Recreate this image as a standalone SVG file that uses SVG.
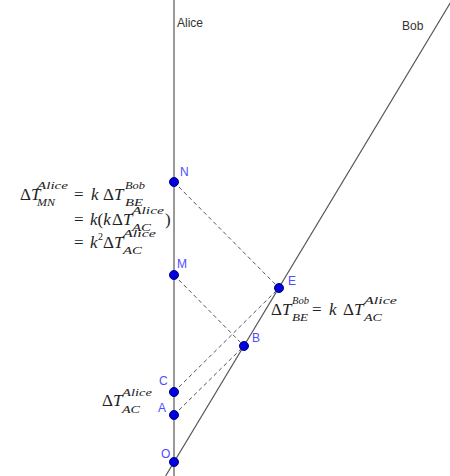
<svg xmlns="http://www.w3.org/2000/svg" width="450" height="476" viewBox="0 0 450 476">
<style>
.world{stroke:#9a9a9a;stroke-width:2;fill:none}
.bob{stroke:#555;stroke-width:1.2;fill:none}
.dash{stroke:#555;stroke-width:1;stroke-dasharray:4,3;fill:none}
.pt{fill:#0000e0;stroke:#00007a;stroke-width:1}
.lbl{font-family:"Liberation Sans",Arial,sans-serif;font-size:12px;fill:#4d4dff}
.name{font-family:"Liberation Sans",Arial,sans-serif;font-size:12px;fill:#333}
.m{font-family:"Liberation Serif","Times New Roman",serif;font-size:17px;fill:#222}
.i{font-style:italic}
.s{font-family:"Liberation Serif","Times New Roman",serif;font-size:10px;font-style:italic;fill:#222}
</style>
<rect width="450" height="476" fill="#fff"/>
<g id="connectors">
<line class="world" x1="174" y1="0" x2="174" y2="476"/>
<line class="bob" x1="165.6" y1="476" x2="452" y2="0"/>
<line class="dash" x1="174" y1="182" x2="279" y2="288"/>
<line class="dash" x1="174" y1="275" x2="244" y2="346"/>
<line class="dash" x1="174" y1="392" x2="279" y2="288"/>
<line class="dash" x1="174" y1="415" x2="244" y2="346"/>
</g>
<g id="worldline-labels">
<text class="name" x="177" y="27">Alice</text>
<text class="name" x="402" y="30">Bob</text>
</g>
<g id="N"><circle class="pt" cx="174" cy="182" r="4.5"/><text class="lbl" x="180" y="176">N</text></g>
<g id="M"><circle class="pt" cx="174" cy="275" r="4.5"/><text class="lbl" x="177" y="268">M</text></g>
<g id="E"><circle class="pt" cx="279" cy="288" r="4.5"/><text class="lbl" x="288" y="285">E</text></g>
<g id="B"><circle class="pt" cx="244" cy="346" r="4.5"/><text class="lbl" x="252" y="342">B</text></g>
<g id="C"><circle class="pt" cx="174" cy="392" r="4.5"/><text class="lbl" x="159" y="385">C</text></g>
<g id="A"><circle class="pt" cx="174" cy="415" r="4.5"/><text class="lbl" x="158" y="412">A</text></g>
<g id="O"><circle class="pt" cx="174" cy="462" r="4.5"/><text class="lbl" x="161" y="458">O</text></g>
<g id="formula-MN">
<text class="m" x="20" y="200">Δ<tspan class="i">T</tspan></text>
<text class="s" x="37" y="189" textLength="31" lengthAdjust="spacingAndGlyphs">Alice</text>
<text class="s" x="37" y="206" textLength="18" lengthAdjust="spacingAndGlyphs">MN</text>
<text class="m" x="74" y="200">=</text>
<text class="m i" x="91" y="200">k</text>
<text class="m" x="103" y="200">Δ<tspan class="i">T</tspan></text>
<text class="s" x="125" y="189" textLength="20" lengthAdjust="spacingAndGlyphs">Bob</text>
<text class="s" x="125" y="206" textLength="18" lengthAdjust="spacingAndGlyphs">BE</text>
<text class="m" x="74" y="225">=</text>
<text class="m" x="90" y="225"><tspan class="i">k</tspan>(<tspan class="i">k</tspan></text>
<text class="m" x="112" y="225">Δ<tspan class="i">T</tspan></text>
<text class="s" x="132" y="214" textLength="32" lengthAdjust="spacingAndGlyphs">Alice</text>
<text class="s" x="132" y="231" textLength="19" lengthAdjust="spacingAndGlyphs">AC</text>
<text class="m" x="165" y="225">)</text>
<text class="m" x="74" y="248">=</text>
<text class="m i" x="90" y="248">k</text>
<text class="s" x="98" y="240" style="font-style:normal">2</text>
<text class="m" x="103" y="248">Δ<tspan class="i">T</tspan></text>
<text class="s" x="123" y="237" textLength="33" lengthAdjust="spacingAndGlyphs">Alice</text>
<text class="s" x="123" y="254" textLength="19" lengthAdjust="spacingAndGlyphs">AC</text>
</g>
<g id="formula-BE">
<text class="m" x="271" y="315">Δ<tspan class="i">T</tspan></text>
<text class="s" x="292" y="304" textLength="17" lengthAdjust="spacingAndGlyphs">Bob</text>
<text class="s" x="292" y="321" textLength="16" lengthAdjust="spacingAndGlyphs">BE</text>
<text class="m" x="312" y="315">=</text>
<text class="m i" x="329" y="315">k</text>
<text class="m" x="343" y="315">Δ<tspan class="i">T</tspan></text>
<text class="s" x="364" y="304" textLength="33" lengthAdjust="spacingAndGlyphs">Alice</text>
<text class="s" x="364" y="321" textLength="18" lengthAdjust="spacingAndGlyphs">AC</text>
</g>
<g id="formula-AC">
<text class="m" x="102" y="406">Δ<tspan class="i">T</tspan></text>
<text class="s" x="122" y="396" textLength="30" lengthAdjust="spacingAndGlyphs">Alice</text>
<text class="s" x="122" y="413" textLength="18" lengthAdjust="spacingAndGlyphs">AC</text>
</g>
</svg>
